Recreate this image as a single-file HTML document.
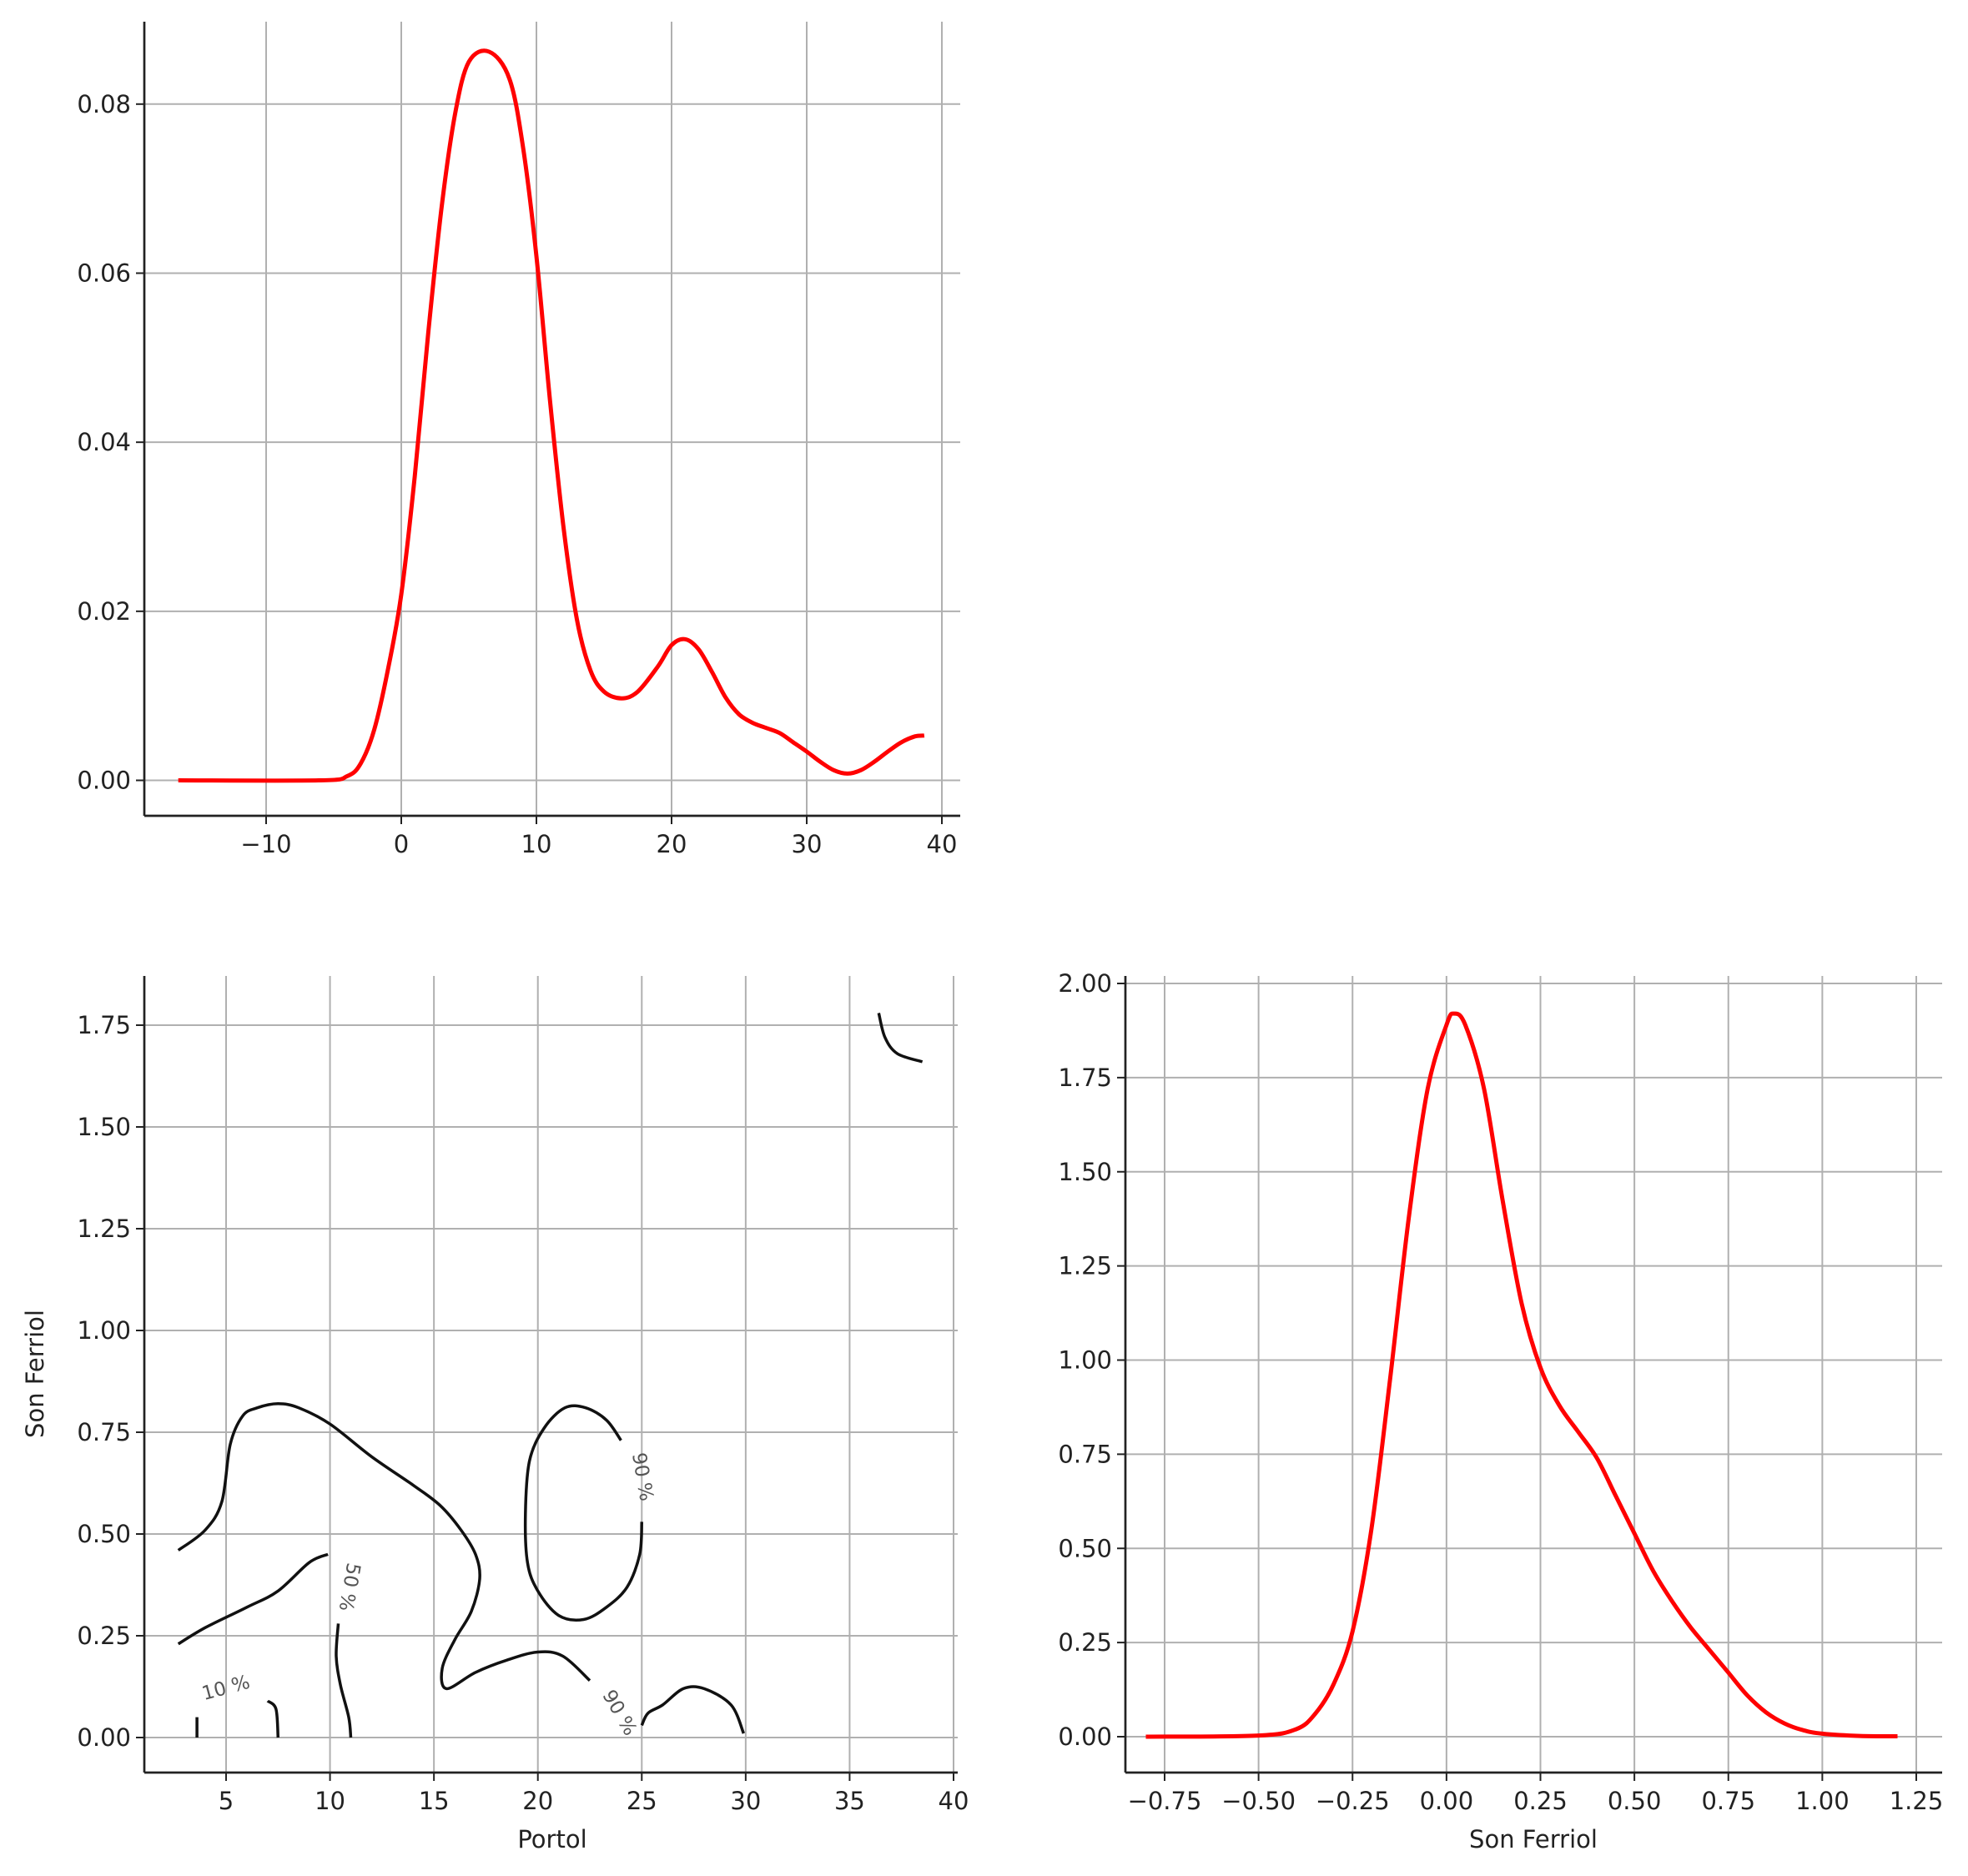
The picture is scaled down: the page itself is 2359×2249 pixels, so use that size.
<!DOCTYPE html>
<html><head><meta charset="utf-8">
<style>
html,body{margin:0;padding:0;background:#fff;}
svg{display:block;}
text{font-family:"DejaVu Sans","Liberation Sans",sans-serif;fill:#222;}
</style></head>
<body>
<svg id="fig" width="2359" height="2249" viewBox="0 0 2359 2249" xmlns="http://www.w3.org/2000/svg"></svg>
<script>
// ---- Data: top KDE (Portol) ----
const portolX = [-16.5,-6,-4,-3,-2,-1,0,1,2,3,4,5,6.5,8,9,10,11,12,13,14,15,16.3,17.5,19,20,21,22,23,24,25,26,27,28,29,30,31,32,33,34,35,36,37,38,38.7];
const portolY = [0,0,0.0005,0.002,0.006,0.013,0.022,0.036,0.053,0.068,0.079,0.085,0.0862,0.083,0.075,0.062,0.045,0.030,0.019,0.013,0.0105,0.0097,0.0105,0.0135,0.016,0.0167,0.0155,0.0128,0.0098,0.0078,0.0068,0.0062,0.0056,0.0045,0.0034,0.0022,0.0012,0.0008,0.0012,0.0022,0.0034,0.0045,0.0052,0.0053];
const topXTicks = [-10,0,10,20,30,40];
const topYTicks = [0,0.02,0.04,0.06,0.08];
const topYLabels = ["0.00","0.02","0.04","0.06","0.08"];
// ---- Data: right KDE (Son Ferriol) ----
const sfX = [-0.8,-0.5,-0.4,-0.35,-0.3,-0.25,-0.2,-0.15,-0.1,-0.05,0,0.02,0.05,0.1,0.15,0.2,0.25,0.3,0.35,0.4,0.45,0.5,0.55,0.6,0.65,0.7,0.75,0.8,0.85,0.9,0.95,1.0,1.1,1.2];
const sfY = [0,0.003,0.02,0.06,0.14,0.28,0.55,0.95,1.38,1.72,1.89,1.92,1.89,1.72,1.42,1.15,0.98,0.88,0.81,0.74,0.64,0.54,0.44,0.36,0.29,0.23,0.17,0.11,0.065,0.035,0.017,0.008,0.002,0.001];
const brXTicks = [-0.75,-0.5,-0.25,0,0.25,0.5,0.75,1.0,1.25];
const brXLabels = ["\u22120.75","\u22120.50","\u22120.25","0.00","0.25","0.50","0.75","1.00","1.25"];
const brYTicks = [0,0.25,0.5,0.75,1,1.25,1.5,1.75,2];
const brYLabels = ["0.00","0.25","0.50","0.75","1.00","1.25","1.50","1.75","2.00"];
// ---- Data: contours ----
const contourA = [[2.7,0.46],[4,0.51],[4.8,0.58],[5.2,0.72],[5.8,0.79],[6.5,0.81],[7.5,0.82],[8.5,0.81],[10,0.77],[12,0.69],[14,0.62],[15.3,0.57],[16.3,0.51],[17,0.45],[17.2,0.39],[16.8,0.31],[16,0.24],[15.4,0.17],[15.6,0.12],[17,0.16],[18.5,0.19],[20,0.21],[21.2,0.20],[22.5,0.14]];
const contourB = [[25,0.03],[25.3,0.06],[26,0.08],[27,0.12],[28,0.12],[29.3,0.08],[29.9,0.01]];
const contourC = [[24,0.73],[23.3,0.78],[22.3,0.81],[21.3,0.81],[20.3,0.76],[19.6,0.68],[19.4,0.55],[19.5,0.43],[20,0.36],[21,0.3],[22.2,0.29],[23.3,0.32],[24.3,0.37],[24.9,0.45],[25,0.53]];
const contourD = [[2.7,0.23],[4,0.27],[6,0.32],[7.5,0.36],[9,0.43],[9.9,0.45]];
const contourE = [[10.4,0.28],[10.3,0.2],[10.5,0.13],[10.9,0.05],[11,0.0]];
const contourF = [[3.6,0.05],[3.6,0.0]];
const contourG = [[7,0.09],[7.4,0.07],[7.5,0.0]];
const contourH = [[36.4,1.78],[36.7,1.72],[37.3,1.68],[38.5,1.66]];
const contours = [contourA,contourB,contourC,contourD,contourE,contourF,contourG,contourH];
const contourLabels = [["10 %",5,0.12,-15],["50 %",10.9,0.37,100],["90 %",25.0,0.64,80],["90 %",23.9,0.06,60]];
const blXTicks = [5,10,15,20,25,30,35,40];
const blYTicks = [0,0.25,0.5,0.75,1,1.25,1.5,1.75];
const blYLabels = ["0.00","0.25","0.50","0.75","1.00","1.25","1.50","1.75"];

const NS="http://www.w3.org/2000/svg";
const svg=document.getElementById('fig');
function el(tag,attrs,parent){const e=document.createElementNS(NS,tag);for(const k in attrs)e.setAttribute(k,attrs[k]);(parent||svg).appendChild(e);return e;}
function lin(d0,d1,p0,p1){return v=>p0+(v-d0)*(p1-p0)/(d1-d0);}

function axes(name,box,sx,sy,xt,xl,yt,yl){
  const g=el('g',{});
  
  
  xt.forEach((t,i)=>{
    const x=sx(t);
    const l=el('line',{x1:x,x2:x,y1:box.t,y2:box.b,stroke:'#b0b0b0','stroke-width':2},g);
    
    
    el('line',{x1:x,x2:x,y1:box.b,y2:box.b+10,stroke:'#222','stroke-width':2},g);
    const tx=el('text',{x:x,y:box.b+44,'font-size':29,'text-anchor':'middle'},g);
    tx.textContent=xl[i];
    
    
  });
  yt.forEach((t,i)=>{
    const y=sy(t);
    const l=el('line',{x1:box.l,x2:box.r,y1:y,y2:y,stroke:'#b0b0b0','stroke-width':2},g);
    
    
    el('line',{x1:box.l-10,x2:box.l,y1:y,y2:y,stroke:'#222','stroke-width':2},g);
    const tx=el('text',{x:box.l-16,y:y+10,'font-size':29,'text-anchor':'end'},g);
    tx.textContent=yl[i];
    
    
  });
  const s1=el('line',{x1:box.l,x2:box.l,y1:box.t,y2:box.b,stroke:'#222','stroke-width':2.7},g);
  
  
  const s2=el('line',{x1:box.l,x2:box.r,y1:box.b,y2:box.b,stroke:'#222','stroke-width':2.7},g);
  
  
  return g;
}
// Catmull-Rom smoothed path through data points
function path(pts,sx,sy){
  const p=pts.map(q=>[sx(q[0]),sy(q[1])]);
  if(p.length<3) return p.map((q,i)=>(i?'L':'M')+q[0].toFixed(1)+' '+q[1].toFixed(1)).join(' ');
  let d='M'+p[0][0].toFixed(1)+' '+p[0][1].toFixed(1);
  for(let i=0;i<p.length-1;i++){
    const p0=p[Math.max(0,i-1)],p1=p[i],p2=p[i+1],p3=p[Math.min(p.length-1,i+2)];
    const c1=[p1[0]+(p2[0]-p0[0])/6,p1[1]+(p2[1]-p0[1])/6];
    const c2=[p2[0]-(p3[0]-p1[0])/6,p2[1]-(p3[1]-p1[1])/6];
    d+=` C${c1[0].toFixed(1)} ${c1[1].toFixed(1)} ${c2[0].toFixed(1)} ${c2[1].toFixed(1)} ${p2[0].toFixed(1)} ${p2[1].toFixed(1)}`;
  }
  return d;
}

// Top plot
{
  const box={l:173,r:1151,t:26,b:978};
  const sx=lin(0,40,481,1129), sy=lin(0,0.08,935.5,124.8);
  axes('top-kde-axes',box,sx,sy,topXTicks,topXTicks.map(v=>v<0?'\u2212'+(-v):''+v),topYTicks,topYLabels);
  const p=el('path',{d:path(portolX.map((x,i)=>[x,portolY[i]]),sx,sy),fill:'none',stroke:'#ff0000','stroke-width':5,'stroke-linejoin':'round'});
  
  
}
// Bottom-left contour plot
{
  const box={l:173,r:1148,t:1170,b:2125};
  const sx=lin(5,40,271,1143), sy=lin(0,1.75,2083,1229);
  axes('contour-axes',box,sx,sy,blXTicks,blXTicks.map(String),blYTicks,blYLabels);
  contours.forEach(c=>{
    const p=el('path',{d:path(c,sx,sy),fill:'none',stroke:'#111','stroke-width':3.5,'stroke-linejoin':'round'});
    
    
  });
  contourLabels.forEach(c=>{
    const x=sx(c[1]),y=sy(c[2]);
    const t=el('text',{x:x,y:y,'font-size':23,'text-anchor':'middle','dominant-baseline':'middle',transform:`rotate(${c[3]} ${x} ${y})`,style:'fill:#555'});
    t.textContent=c[0];
    
    
  });
  const xl=el('text',{x:662,y:2215,'font-size':29,'text-anchor':'middle'});
  xl.textContent='Portol';
  
  
  const yl=el('text',{x:52,y:1647,'font-size':29,'text-anchor':'middle',transform:'rotate(-90 52 1647)'});
  yl.textContent='Son Ferriol';
  
  
}
// Bottom-right KDE
{
  const box={l:1349,r:2328,t:1170,b:2125};
  const sx=lin(-0.75,1.25,1396,2297), sy=lin(0,2,2082,1179);
  axes('son-ferriol-kde-axes',box,sx,sy,brXTicks,brXLabels,brYTicks,brYLabels);
  const p=el('path',{d:path(sfX.map((x,i)=>[x,sfY[i]]),sx,sy),fill:'none',stroke:'#ff0000','stroke-width':5,'stroke-linejoin':'round'});
  
  
  const xl=el('text',{x:1838,y:2215,'font-size':29,'text-anchor':'middle'});
  xl.textContent='Son Ferriol';
  
  
}
</script>
</body></html>
